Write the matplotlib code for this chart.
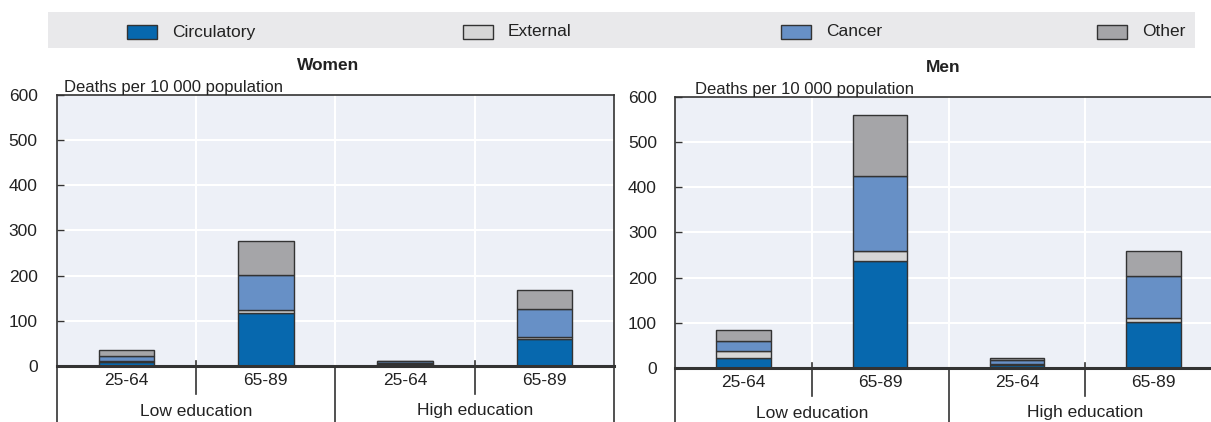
import matplotlib
matplotlib.use("Agg")
import matplotlib.pyplot as plt
from matplotlib.patches import Rectangle
from matplotlib.lines import Line2D
import numpy as np

plt.rcParams['font.family'] = ['Liberation Sans', 'DejaVu Sans']

# --- donnees ---
age_labels = ["25-64", "65-89", "25-64", "65-89"]
edu_labels = ["Low education", "High education"]
causes = ["Circulatory", "External", "Cancer", "Other"]

women_circulatory = [8, 117, 5, 60]
women_external = [3, 8, 1, 5]
women_cancer = [12, 77, 4, 62]
women_other = [12, 74, 2, 41]

men_circulatory = [23, 236, 6, 101]
men_external = [15, 22, 3, 10]
men_cancer = [21, 168, 8, 92]
men_other = [25, 134, 6, 57]

colors = {"Circulatory": "#0768AE", "External": "#D6D6D6",
          "Cancer": "#6790C6", "Other": "#A5A5A8"}
edge = "#333333"
txt = "#222222"
bg = "#EDF0F7"
fs = 12.5

W, H = 1211, 422
fig = plt.figure(figsize=(W / 100, H / 100), dpi=100)


def px_axes(left, top, right, bottom):
    return fig.add_axes([left / W, 1 - bottom / H, (right - left) / W, (bottom - top) / H])


def draw_panel(ax, title, series, title_x, label_x, tick_pad, right_edge=True):
    x = np.arange(len(age_labels))
    bottom = np.zeros(len(age_labels))
    for name, vals in zip(causes, series):
        ax.bar(x, vals, 0.4, bottom=bottom, color=colors[name],
               edgecolor=edge, linewidth=1, zorder=3)
        bottom += np.array(vals)

    ax.set_facecolor(bg)
    ax.set_xlim(-0.5, 3.5)
    ax.set_ylim(0, 600)
    ax.set_yticks(range(0, 601, 100))
    ax.tick_params(axis='y', direction='in', length=5, width=1, color=edge,
                   pad=tick_pad, labelsize=fs, labelcolor=txt)
    ax.set_xticks(x)
    ax.set_xticklabels(age_labels, fontsize=fs, color=txt)
    ax.tick_params(axis='x', length=0, pad=5)
    for y in range(100, 600, 100):
        ax.axhline(y, color="white", linewidth=1.5, zorder=1)
    for xv in [0.5, 1.5, 2.5]:
        ax.axvline(xv, color="white", linewidth=1.5, zorder=1)

    for s in ax.spines.values():
        s.set_color(edge)
        s.set_linewidth(1.2)
    ax.spines['bottom'].set_linewidth(2.2)
    ax.spines['bottom'].set_zorder(4)
    ax.spines['right'].set_visible(right_edge)

    tr = ax.get_xaxis_transform()
    hpx = ax.get_position().height * H
    low = -56 / hpx
    short = -28 / hpx
    long_lines = [-0.5, 1.5, 3.5] if right_edge else [-0.5, 1.5]
    for xv in long_lines:
        ax.add_line(Line2D([xv, xv], [0, low], transform=tr, color=edge,
                           linewidth=1.2, clip_on=False))
    for xv in [0.5, 2.5]:
        ax.add_line(Line2D([xv, xv], [0.02, short], transform=tr, color=edge,
                           linewidth=1.2, clip_on=False))
    for xv, lab in zip([0.5, 2.5], edu_labels):
        ax.text(xv, -45 / hpx, lab, transform=tr, ha='center', va='center',
                fontsize=fs, color=txt)

    ax.text(title_x, 1 + 29 / hpx, title, transform=ax.transAxes, ha='center',
            va='center', fontsize=fs, fontweight='bold', color=txt)
    ax.text(label_x, 1.0, "Deaths per 10 000 population", transform=ax.transAxes,
            ha='left', va='bottom', fontsize=12, color=txt)


ax_w = px_axes(57, 95, 614, 366)
ax_m = px_axes(675, 97, 1222, 368)

draw_panel(ax_w, "Women", [women_circulatory, women_external, women_cancer, women_other],
           (328 - 57) / 557, 7 / 557, 14)
draw_panel(ax_m, "Men", [men_circulatory, men_external, men_cancer, men_other],
           (943 - 675) / 547, 20 / 547, 13, right_edge=False)

# --- legende ---
fig.patches.append(Rectangle((48 / W, 1 - 48 / H), (1195 - 48) / W, 36 / H,
                             transform=fig.transFigure, facecolor="#E9E9EB",
                             edgecolor="none", zorder=0))
legend_x = [127, 463, 781, 1097]
for xp, name in zip(legend_x, causes):
    fig.patches.append(Rectangle((xp / W, 1 - 39 / H), 30 / W, 14 / H,
                                 transform=fig.transFigure, facecolor=colors[name],
                                 edgecolor=edge, linewidth=1, zorder=2))
    fig.text((xp + 45) / W, 1 - 32 / H, name, ha='left', va='center',
             fontsize=fs, color=txt)

fig.savefig("out.png", dpi=100)
